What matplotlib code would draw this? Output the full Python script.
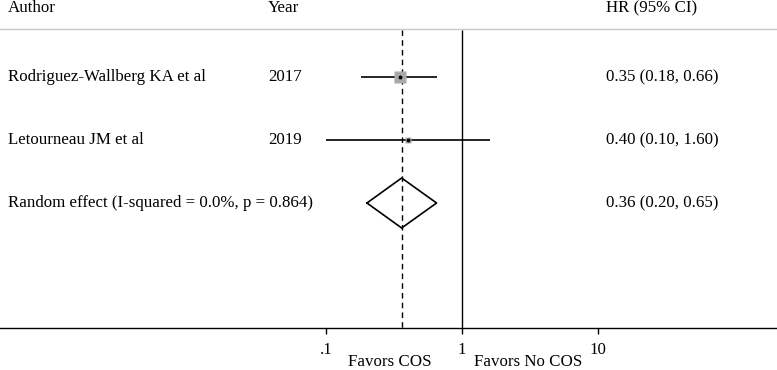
## forest plot: HR of COS vs no COS
import matplotlib
matplotlib.use('Agg')
import matplotlib.pyplot as plt
import matplotlib.transforms as mtransforms

# ------------------------------------------------------------------------------------------------
## data
authors = ['Rodriguez-Wallberg KA et al', 'Letourneau JM et al']
years = ['2017', '2019']
hr = [0.35, 0.40]
ci_low = [0.18, 0.10]
ci_high = [0.66, 1.60]
pooled_label = 'Random effect (I-squared = 0.0%, p = 0.864)'
pooled_hr, pooled_low, pooled_high = 0.36, 0.20, 0.65
ticks = [0.1, 1, 10]
tick_labels = ['.1', '1', '10']

# ------------------------------------------------------------------------------------------------
## layout (pixel based rows)
plt.rcParams['font.family'] = ['Liberation Serif', 'DejaVu Serif']
FS = 12.2
W, H = 777, 370
axis_y = 328
row_y = [77, 140]
pooled_y = 203
box_size = [9.0, 4.3]

fig = plt.figure(figsize=(W / 100, H / 100), dpi=100)
ax = fig.add_axes([0, (H - axis_y) / H, 1, axis_y / H])
ax.set_xscale('log')
# 1 sits at 462 px, one decade is 136 px
ax.set_xlim(10 ** (-462 / 136), 10 ** ((W - 462) / 136))
ax.set_ylim(axis_y, 0)

for s in ['top', 'left', 'right']:
    ax.spines[s].set_visible(False)
ax.spines['bottom'].set_linewidth(1.0)
ax.set_yticks([])
ax.set_xticks(ticks)
ax.set_xticklabels(tick_labels, fontsize=FS)
ax.xaxis.set_minor_locator(matplotlib.ticker.NullLocator())
ax.tick_params(axis='x', direction='out', length=4, width=1, pad=6)

# text columns: x in figure fraction, y in row pixels
col_t = mtransforms.blended_transform_factory(fig.transFigure, ax.transData)
x_author, x_year, x_hr = 8 / W, 268 / W, 606 / W

# header + separator
ax.text(x_author, 8, 'Author', fontsize=FS, va='center', ha='left', transform=col_t)
ax.text(x_year, 8, 'Year', fontsize=FS, va='center', ha='left', transform=col_t)
ax.text(x_hr, 8, 'HR (95% CI)', fontsize=FS, va='center', ha='left', transform=col_t)
ax.axhline(29, color='#c8c8c8', lw=1.0)

# reference lines
ax.vlines(1, 30, axis_y, color='black', lw=1.0)
ax.vlines(pooled_hr, 30, axis_y, color='black', lw=1.0, linestyles=(0, (4, 3)))

# studies
for i in range(len(authors)):
    y = row_y[i]
    ax.hlines(y, ci_low[i], ci_high[i], color='black', lw=1.2)
    ax.plot(hr[i], y, marker='s', ms=box_size[i], color='#a8a8a8', mec='none')
    ax.plot(hr[i], y, marker='o', ms=1.8, color='black')
    ax.text(x_author, y, authors[i], fontsize=FS, va='center', ha='left', transform=col_t)
    ax.text(x_year, y, years[i], fontsize=FS, va='center', ha='left', transform=col_t)
    ax.text(x_hr, y, f'{hr[i]:.2f} ({ci_low[i]:.2f}, {ci_high[i]:.2f})', fontsize=FS,
            va='center', ha='left', transform=col_t)

# pooled diamond
dx = [pooled_low, pooled_hr, pooled_high, pooled_hr, pooled_low]
dy = [pooled_y, pooled_y - 25, pooled_y, pooled_y + 25, pooled_y]
ax.plot(dx, dy, color='black', lw=1.2)
ax.text(x_author, pooled_y, pooled_label, fontsize=FS, va='center', ha='left', transform=col_t)
ax.text(x_hr, pooled_y, f'{pooled_hr:.2f} ({pooled_low:.2f}, {pooled_high:.2f})', fontsize=FS,
        va='center', ha='left', transform=col_t)

# favours labels
ax.text(0.296, 362, 'Favors COS', fontsize=FS, va='center', ha='center', clip_on=False)
ax.text(3.06, 362, 'Favors No COS', fontsize=FS, va='center', ha='center', clip_on=False)

fig.savefig('out.png', dpi=100)
